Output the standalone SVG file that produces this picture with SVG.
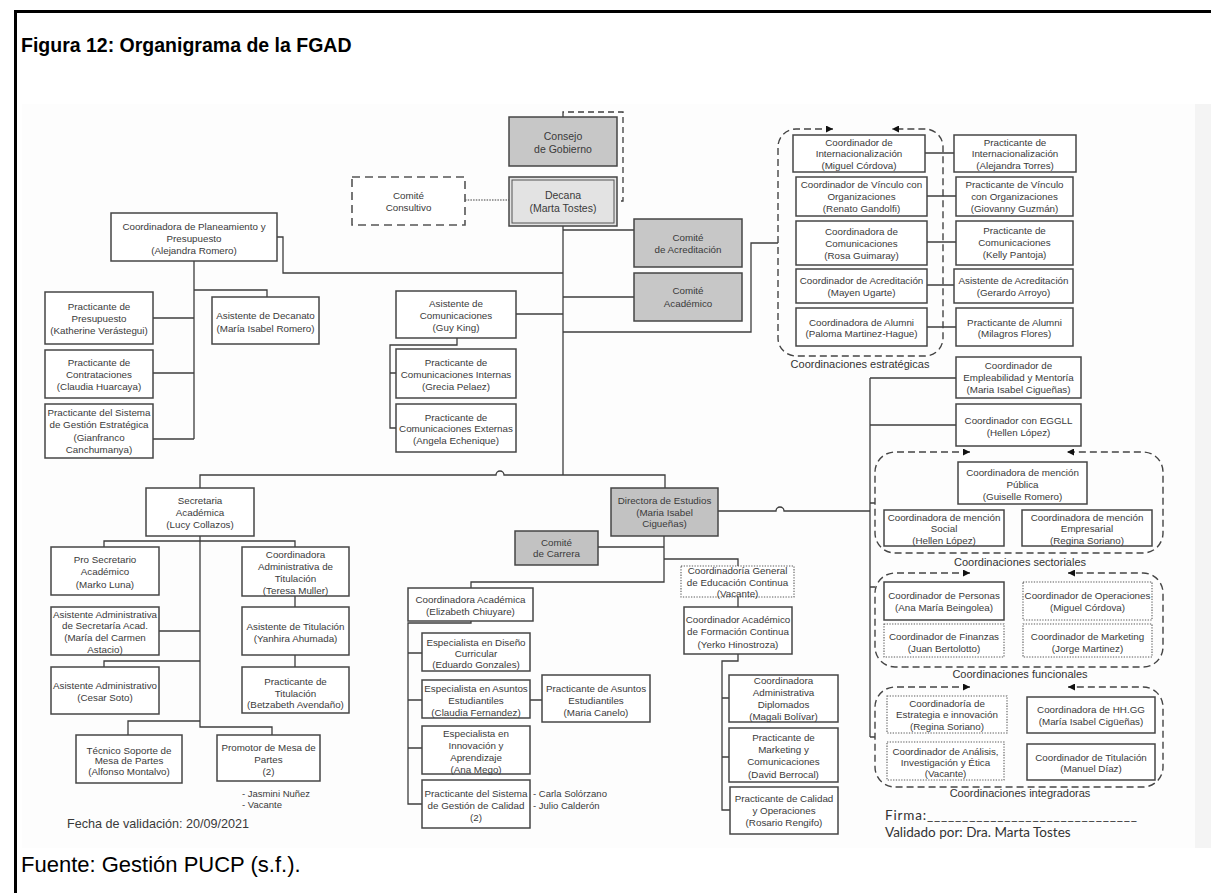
<svg xmlns="http://www.w3.org/2000/svg" width="1211" height="893" viewBox="0 0 1211 893">
  <style>
    .box{fill:#fff;stroke:#464646;stroke-width:1.5}
    .gray{fill:#c7c7c7}
    .dark{fill:#c2c2c2}
    .dot{stroke:#5a5a5a;stroke-width:1.1;stroke-dasharray:1.3 1.4}
    .dashbox{fill:#fff;stroke:#555;stroke-width:1.6;stroke-dasharray:8 5}
    .grp{fill:none;stroke:#444;stroke-width:1.4;stroke-dasharray:7 4}
    .ln{fill:none;stroke:#3e3e3e;stroke-width:1.3}
    .t{font-family:"Liberation Sans",Arial,sans-serif;font-size:9.8px;fill:#3a3a3a;text-anchor:middle}
    .tl{font-family:"Liberation Sans",Arial,sans-serif;font-size:10.5px;fill:#3a3a3a;text-anchor:middle}
    .lab{font-family:"Liberation Sans",Arial,sans-serif;font-size:11px;fill:#333;text-anchor:middle}
    .note{font-family:"Liberation Sans",Arial,sans-serif;font-size:9.5px;fill:#3a3a3a}
  </style>
  <defs>
    <marker id="arr" viewBox="0 0 10 10" refX="10" refY="5" markerWidth="9" markerHeight="7" markerUnits="userSpaceOnUse" orient="auto-start-reverse">
      <path d="M0,0 L10,5 L0,10 z" fill="#111"/>
    </marker>
  </defs>

  <!-- page -->
  <rect x="0" y="0" width="1211" height="893" fill="#fff"/>
  <rect x="22" y="104" width="1173" height="744" fill="#fdfdfd"/>
  <rect x="1195" y="104" width="16" height="744" fill="#f4f4f4"/>
  <path d="M14,11.5 H1211 M15.5,10 V893" fill="none" stroke="#000" stroke-width="3"/>
  <text x="21" y="52" font-family="Liberation Sans,Arial,sans-serif" font-size="19.5" font-weight="bold" fill="#000">Figura 12: Organigrama de la FGAD</text>
  <text x="21" y="872" font-family="Liberation Sans,Arial,sans-serif" font-size="22" fill="#000">Fuente: Gestión PUCP (s.f.).</text>

  <!-- connectors -->
  <g id="connectors">
    <path class="ln" style="stroke-dasharray:6 4" d="M563,117 V112 H623 V201 H617"/>
    <path class="ln" style="stroke-dasharray:1.5 1.2;stroke-width:1.1" d="M465,200 H509"/>
    <!-- spine from the dean -->
    <path class="ln" d="M563,226 V475"/>
    <path class="ln" d="M563,230 H634 M563,297 H634"/>
    <path class="ln" d="M563,273 H283 V237 H277"/>
    <path class="ln" d="M563,332 H751 V243 H778"/>
    <path class="ln" d="M516,314 H563"/>
    <path class="ln" d="M457,338 V345 H390 V428 H396 M390,373 H396"/>
    <!-- planning branch -->
    <path class="ln" d="M194,261 V439 M194,290 H267 V297 M153,318 H194 M153,373 H194 M153,439 H194"/>
    <!-- strategic coordinations -->
    <path class="ln" d="M925,153 H954 M927,196 H956 M927,242 H956 M927,285 H954 M927,327 H956"/>
    <!-- main horizontal to the two lower units -->
    <path class="ln" d="M200,488 V475 H496 A4,4 0 0 1 504,475 H665 V488"/>
    <!-- academic secretary -->
    <path class="ln" d="M200,536 V727 H272 V735"/>
    <path class="ln" d="M104,547 V541 H295 V547"/>
    <path class="ln" d="M159,631 H200 M200,661 H104 V667 M200,721 H128 V735"/>
    <path class="ln" d="M295,596 V607 M295,655 V667"/>
    <!-- director of studies -->
    <path class="ln" d="M664,536 V582 H471 V588 M598,547 H664 M664,559 H738 V566 M738,597 V607"/>
    <path class="ln" d="M471,621 V623 H408 V804 H422 M408,653 H422 M408,700 H422 M408,748 H422 M530,700 H542"/>
    <path class="ln" d="M738,654 V661 H722 V810 H730 M722,698 H729 M722,757 H729"/>
    <path class="ln" d="M718,511 H776 A4,4 0 0 1 784,511 H870"/>
    <path class="ln" d="M870,378 V737 M870,378 H956 M870,425 H956 M870,503 H875 M870,587 H875 M870,737 H875"/>
  </g>

  <!-- coordination groups -->
  <g id="grupo-estrategicas">
    <path class="grp" marker-start="url(#arr)" marker-end="url(#arr)" d="M833,129 H796 A18,18 0 0 0 778,147 V338 A18,18 0 0 0 796,356 H925 A18,18 0 0 0 943,338 V147 A18,18 0 0 0 925,129 H892"/>
    <text class="lab" x="860" y="368">Coordinaciones estratégicas</text>
  </g>
  <g id="grupo-sectoriales">
    <path class="grp" marker-start="url(#arr)" marker-end="url(#arr)" d="M970,452 H895 A20,20 0 0 0 875,472 V533 A20,20 0 0 0 895,553 H1143 A20,20 0 0 0 1163,533 V472 A20,20 0 0 0 1143,452 H1067"/>
    <text class="lab" x="1020" y="566">Coordinaciones sectoriales</text>
  </g>
  <g id="grupo-funcionales">
    <path class="grp" marker-start="url(#arr)" marker-end="url(#arr)" d="M970,573 H895 A20,20 0 0 0 875,593 V647 A20,20 0 0 0 895,667 H1143 A20,20 0 0 0 1163,647 V593 A20,20 0 0 0 1143,573 H1068"/>
    <text class="lab" x="1020" y="678">Coordinaciones funcionales</text>
  </g>
  <g id="grupo-integradoras">
    <path class="grp" marker-start="url(#arr)" marker-end="url(#arr)" d="M970,687 H895 A20,20 0 0 0 875,707 V767 A20,20 0 0 0 895,787 H1143 A20,20 0 0 0 1163,767 V707 A20,20 0 0 0 1143,687 H1068"/>
    <text class="lab" x="1020" y="797">Coordinaciones integradoras</text>
  </g>

  <!-- governing bodies -->
  <g id="consejo-gobierno">
    <rect class="box gray" x="509" y="117" width="108" height="49"/>
    <text class="tl"><tspan x="563" y="140">Consejo</tspan><tspan x="563" y="153">de Gobierno</tspan></text>
  </g>
  <g id="decana">
    <rect class="box" style="fill:#e3e3e3" x="509" y="177" width="108" height="49"/>
    <rect fill="none" stroke="#555" stroke-width="1" x="512" y="180" width="102" height="43"/>
    <text class="tl"><tspan x="563" y="198.5">Decana</tspan><tspan x="563" y="211.5">(Marta Tostes)</tspan></text>
  </g>
  <g id="comite-consultivo">
    <rect class="dashbox" x="352" y="177" width="113" height="48"/>
    <text class="t"><tspan x="408.5" y="198.5">Comité</tspan><tspan x="408.5" y="210.5">Consultivo</tspan></text>
  </g>
  <g id="comite-acreditacion">
    <rect class="box gray" x="634" y="219" width="108" height="48"/>
    <text class="t"><tspan x="688" y="240.5">Comité</tspan><tspan x="688" y="252.5">de Acreditación</tspan></text>
  </g>
  <g id="comite-academico">
    <rect class="box gray" x="634" y="273" width="108" height="48"/>
    <text class="t"><tspan x="688" y="293.5">Comité</tspan><tspan x="688" y="306.5">Académico</tspan></text>
  </g>

  <!-- planning and budget -->
  <g id="planeamiento">
    <rect class="box" x="111" y="213" width="166" height="48"/>
    <text class="t"><tspan x="194" y="229.5">Coordinadora de Planeamiento y</tspan><tspan x="194" y="241.5">Presupuesto</tspan><tspan x="194" y="253.5">(Alejandra Romero)</tspan></text>
  </g>
  <g id="practicante-presupuesto">
    <rect class="box" x="45" y="292" width="108" height="52"/>
    <text class="t"><tspan x="99" y="309.5">Practicante de</tspan><tspan x="99" y="321.5">Presupuesto</tspan><tspan x="99" y="333.5">(Katherine Verástegui)</tspan></text>
  </g>
  <g id="practicante-contrataciones">
    <rect class="box" x="45" y="350" width="108" height="48"/>
    <text class="t"><tspan x="99" y="365.5">Practicante de</tspan><tspan x="99" y="377.5">Contrataciones</tspan><tspan x="99" y="389.5">(Claudia Huarcaya)</tspan></text>
  </g>
  <g id="practicante-gestion-estrategica">
    <rect class="box" x="45" y="404" width="108" height="54"/>
    <text class="t"><tspan x="99" y="415.5">Practicante del Sistema</tspan><tspan x="99" y="428">de Gestión Estratégica</tspan><tspan x="99" y="440.5">(Gianfranco</tspan><tspan x="99" y="453">Canchumanya)</tspan></text>
  </g>
  <g id="asistente-decanato">
    <rect class="box" x="212" y="297" width="107" height="47"/>
    <text class="t"><tspan x="265.5" y="318.5">Asistente de Decanato</tspan><tspan x="265.5" y="331.5">(María Isabel Romero)</tspan></text>
  </g>

  <!-- communications -->
  <g id="asistente-comunicaciones">
    <rect class="box" x="396" y="291" width="120" height="47"/>
    <text class="t"><tspan x="456" y="306.5">Asistente de</tspan><tspan x="456" y="318.5">Comunicaciones</tspan><tspan x="456" y="330.5">(Guy King)</tspan></text>
  </g>
  <g id="practicante-com-internas">
    <rect class="box" x="396" y="349" width="120" height="49"/>
    <text class="t"><tspan x="456" y="365.5">Practicante de</tspan><tspan x="456" y="377.5">Comunicaciones Internas</tspan><tspan x="456" y="390">(Grecia Pelaez)</tspan></text>
  </g>
  <g id="practicante-com-externas">
    <rect class="box" x="396" y="404" width="120" height="48"/>
    <text class="t"><tspan x="456" y="420.5">Practicante de</tspan><tspan x="456" y="432">Comunicaciones Externas</tspan><tspan x="456" y="444">(Angela Echenique)</tspan></text>
  </g>

  <!-- strategic coordinations -->
  <g id="coord-internacionalizacion">
    <rect class="box" x="793" y="135" width="132" height="37"/>
    <text class="t"><tspan x="859" y="145.5">Coordinador de</tspan><tspan x="859" y="157">Internacionalización</tspan><tspan x="859" y="168.5">(Miguel Córdova)</tspan></text>
  </g>
  <g id="coord-vinculo">
    <rect class="box" x="796" y="177" width="131" height="39"/>
    <text class="t"><tspan x="861.5" y="187.5">Coordinador de Vínculo con</tspan><tspan x="861.5" y="199.5">Organizaciones</tspan><tspan x="861.5" y="211.5">(Renato Gandolfi)</tspan></text>
  </g>
  <g id="coord-comunicaciones">
    <rect class="box" x="796" y="221" width="131" height="44"/>
    <text class="t"><tspan x="861.5" y="234.5">Coordinadora de</tspan><tspan x="861.5" y="246.5">Comunicaciones</tspan><tspan x="861.5" y="258.5">(Rosa Guimaray)</tspan></text>
  </g>
  <g id="coord-acreditacion">
    <rect class="box" x="796" y="269" width="131" height="34"/>
    <text class="t"><tspan x="861.5" y="283.5">Coordinador de Acreditación</tspan><tspan x="861.5" y="295.5">(Mayen Ugarte)</tspan></text>
  </g>
  <g id="coord-alumni">
    <rect class="box" x="796" y="308" width="131" height="38"/>
    <text class="t"><tspan x="861.5" y="325.5">Coordinadora de Alumni</tspan><tspan x="861.5" y="337">(Paloma Martinez-Hague)</tspan></text>
  </g>
  <g id="practicante-internacionalizacion">
    <rect class="box" x="954" y="135" width="122" height="37"/>
    <text class="t"><tspan x="1015" y="145.5">Practicante de</tspan><tspan x="1015" y="157">Internacionalización</tspan><tspan x="1015" y="168.5">(Alejandra Torres)</tspan></text>
  </g>
  <g id="practicante-vinculo">
    <rect class="box" x="956" y="177" width="117" height="39"/>
    <text class="t"><tspan x="1014.5" y="187.5">Practicante de Vínculo</tspan><tspan x="1014.5" y="199.5">con Organizaciones</tspan><tspan x="1014.5" y="211.5">(Giovanny Guzmán)</tspan></text>
  </g>
  <g id="practicante-comunicaciones">
    <rect class="box" x="956" y="221" width="117" height="44"/>
    <text class="t"><tspan x="1014.5" y="233.5">Practicante de</tspan><tspan x="1014.5" y="245.5">Comunicaciones</tspan><tspan x="1014.5" y="258">(Kelly Pantoja)</tspan></text>
  </g>
  <g id="asistente-acreditacion">
    <rect class="box" x="954" y="269" width="119" height="34"/>
    <text class="t"><tspan x="1013.5" y="283.5">Asistente de Acreditación</tspan><tspan x="1013.5" y="295.5">(Gerardo Arroyo)</tspan></text>
  </g>
  <g id="practicante-alumni">
    <rect class="box" x="956" y="308" width="117" height="38"/>
    <text class="t"><tspan x="1014.5" y="325.5">Practicante de Alumni</tspan><tspan x="1014.5" y="337">(Milagros Flores)</tspan></text>
  </g>

  <!-- right column -->
  <g id="coord-empleabilidad">
    <rect class="box" x="956" y="357" width="125" height="41"/>
    <text class="t"><tspan x="1018.5" y="368.5">Coordinador de</tspan><tspan x="1018.5" y="380.5">Empleabilidad y Mentoría</tspan><tspan x="1018.5" y="393">(Maria Isabel Cigueñas)</tspan></text>
  </g>
  <g id="coord-eggll">
    <rect class="box" x="956" y="404" width="125" height="42"/>
    <text class="t"><tspan x="1018.5" y="423.5">Coordinador con EGGLL</tspan><tspan x="1018.5" y="435.5">(Hellen López)</tspan></text>
  </g>
  <g id="mencion-publica">
    <rect class="box" x="958" y="462" width="129" height="42"/>
    <text class="t"><tspan x="1022.5" y="475.5">Coordinadora de mención</tspan><tspan x="1022.5" y="487.5">Pública</tspan><tspan x="1022.5" y="499.5">(Guiselle Romero)</tspan></text>
  </g>
  <g id="mencion-social">
    <rect class="box" x="884" y="510" width="120" height="36"/>
    <text class="t"><tspan x="944" y="520.5">Coordinadora de mención</tspan><tspan x="944" y="531.5">Social</tspan><tspan x="944" y="543.5">(Hellen López)</tspan></text>
  </g>
  <g id="mencion-empresarial">
    <rect class="box" x="1022" y="510" width="130" height="36"/>
    <text class="t"><tspan x="1087" y="520.5">Coordinadora de mención</tspan><tspan x="1087" y="531.5">Empresarial</tspan><tspan x="1087" y="543.5">(Regina Soriano)</tspan></text>
  </g>
  <g id="coord-personas">
    <rect class="box" x="884" y="582" width="120" height="38"/>
    <text class="t"><tspan x="944" y="598.5">Coordinador de Personas</tspan><tspan x="944" y="610.5">(Ana María Beingolea)</tspan></text>
  </g>
  <g id="coord-operaciones">
    <rect class="box dot" x="1023" y="582" width="129" height="38"/>
    <text class="t"><tspan x="1087.5" y="598.5">Coordinador de Operaciones</tspan><tspan x="1087.5" y="610.5">(Miguel Córdova)</tspan></text>
  </g>
  <g id="coord-finanzas">
    <rect class="box dot" x="884" y="624" width="120" height="33"/>
    <text class="t"><tspan x="944" y="639.5">Coordinador de Finanzas</tspan><tspan x="944" y="651.5">(Juan Bertolotto)</tspan></text>
  </g>
  <g id="coord-marketing">
    <rect class="box dot" x="1023" y="624" width="129" height="33"/>
    <text class="t"><tspan x="1087.5" y="639.5">Coordinador de Marketing</tspan><tspan x="1087.5" y="651.5">(Jorge Martinez)</tspan></text>
  </g>
  <g id="coord-estrategia">
    <rect class="box dot" x="887" y="696" width="120" height="37"/>
    <text class="t"><tspan x="947" y="706.5">Coordinadoría de</tspan><tspan x="947" y="718">Estrategia e innovación</tspan><tspan x="947" y="730">(Regina Soriano)</tspan></text>
  </g>
  <g id="coord-hhgg">
    <rect class="box" x="1027" y="697" width="128" height="36"/>
    <text class="t"><tspan x="1091" y="712.5">Coordinadora de HH.GG</tspan><tspan x="1091" y="724.5">(María Isabel Cigüeñas)</tspan></text>
  </g>
  <g id="coord-analisis">
    <rect class="box dot" x="887" y="742" width="117" height="38"/>
    <text class="t"><tspan x="945.5" y="754.5">Coordinador de Análisis,</tspan><tspan x="945.5" y="765.5">Investigación y Ética</tspan><tspan x="945.5" y="776.5">(Vacante)</tspan></text>
  </g>
  <g id="coord-titulacion">
    <rect class="box" x="1027" y="744" width="128" height="36"/>
    <text class="t"><tspan x="1091" y="760.5">Coordinador de Titulación</tspan><tspan x="1091" y="771.5">(Manuel Díaz)</tspan></text>
  </g>

  <!-- academic secretary -->
  <g id="secretaria-academica">
    <rect class="box" x="146" y="488" width="108" height="48"/>
    <text class="t"><tspan x="200" y="503.5">Secretaria</tspan><tspan x="200" y="515.5">Académica</tspan><tspan x="200" y="527.5">(Lucy Collazos)</tspan></text>
  </g>
  <g id="pro-secretario">
    <rect class="box" x="51" y="547" width="108" height="48"/>
    <text class="t"><tspan x="105" y="562.5">Pro Secretario</tspan><tspan x="105" y="575">Académico</tspan><tspan x="105" y="587.5">(Marko Luna)</tspan></text>
  </g>
  <g id="asistente-adm-secretaria">
    <rect class="box" x="51" y="607" width="108" height="48"/>
    <text class="t"><tspan x="105" y="617.5">Asistente Administrativa</tspan><tspan x="105" y="629">de Secretaría Acad.</tspan><tspan x="105" y="641">(María del Carmen</tspan><tspan x="105" y="652.5">Astacio)</tspan></text>
  </g>
  <g id="asistente-administrativo">
    <rect class="box" x="51" y="667" width="108" height="47"/>
    <text class="t"><tspan x="105" y="688.5">Asistente Administrativo</tspan><tspan x="105" y="700.5">(Cesar Soto)</tspan></text>
  </g>
  <g id="tecnico-mesa-partes">
    <rect class="box" x="76" y="735" width="106" height="48"/>
    <text class="t"><tspan x="129" y="753.5">Técnico Soporte de</tspan><tspan x="129" y="764">Mesa de Partes</tspan><tspan x="129" y="774.5">(Alfonso Montalvo)</tspan></text>
  </g>
  <g id="promotor-mesa-partes">
    <rect class="box" x="217" y="735" width="103" height="46"/>
    <text class="t"><tspan x="268.5" y="750.5">Promotor de Mesa de</tspan><tspan x="268.5" y="762.5">Partes</tspan><tspan x="268.5" y="774.5">(2)</tspan></text>
    <text class="note"><tspan x="242" y="797">- Jasmini Nuñez</tspan><tspan x="242" y="808">- Vacante</tspan></text>
  </g>
  <g id="coord-adm-titulacion">
    <rect class="box" x="242" y="547" width="107" height="49"/>
    <text class="t"><tspan x="295.5" y="557.5">Coordinadora</tspan><tspan x="295.5" y="569.5">Administrativa de</tspan><tspan x="295.5" y="581.5">Titulación</tspan><tspan x="295.5" y="593.5">(Teresa Muller)</tspan></text>
  </g>
  <g id="asistente-titulacion">
    <rect class="box" x="242" y="607" width="107" height="48"/>
    <text class="t"><tspan x="295.5" y="629.5">Asistente de Titulación</tspan><tspan x="295.5" y="641.5">(Yanhira Ahumada)</tspan></text>
  </g>
  <g id="practicante-titulacion">
    <rect class="box" x="242" y="667" width="107" height="46"/>
    <text class="t"><tspan x="295.5" y="684.5">Practicante de</tspan><tspan x="295.5" y="696.5">Titulación</tspan><tspan x="295.5" y="707.5">(Betzabeth Avendaño)</tspan></text>
  </g>

  <!-- director of studies -->
  <g id="directora-estudios">
    <rect class="box dark" x="611" y="488" width="107" height="48"/>
    <text class="t"><tspan x="664.5" y="503.5">Directora de Estudios</tspan><tspan x="664.5" y="515.5">(Maria Isabel</tspan><tspan x="664.5" y="526.5">Cigueñas)</tspan></text>
  </g>
  <g id="comite-carrera">
    <rect class="box dark" x="515" y="531" width="83" height="34"/>
    <text class="t"><tspan x="556.5" y="545.5">Comité</tspan><tspan x="556.5" y="556.5">de Carrera</tspan></text>
  </g>
  <g id="coord-general-educacion-continua">
    <rect class="box dot" x="681" y="566" width="113" height="31"/>
    <text class="t"><tspan x="737.5" y="574">Coordinadoría General</tspan><tspan x="737.5" y="585.5">de Educación Continua</tspan><tspan x="737.5" y="597">(Vacante)</tspan></text>
  </g>
  <g id="coord-formacion-continua">
    <rect class="box" x="684" y="607" width="108" height="47"/>
    <text class="t"><tspan x="738" y="622.5">Coordinador Académico</tspan><tspan x="738" y="635">de Formación Continua</tspan><tspan x="738" y="648">(Yerko Hinostroza)</tspan></text>
  </g>
  <g id="coord-academica">
    <rect class="box" x="408" y="588" width="125" height="33"/>
    <text class="t"><tspan x="470.5" y="602.5">Coordinadora Académica</tspan><tspan x="470.5" y="614.5">(Elizabeth Chiuyare)</tspan></text>
  </g>
  <g id="especialista-diseno">
    <rect class="box" x="422" y="633" width="108" height="38"/>
    <text class="t"><tspan x="476" y="645.5">Especialista en Diseño</tspan><tspan x="476" y="656.5">Curricular</tspan><tspan x="476" y="667.5">(Eduardo Gonzales)</tspan></text>
  </g>
  <g id="especialista-asuntos">
    <rect class="box" x="422" y="680" width="108" height="38"/>
    <text class="t"><tspan x="476" y="691.5">Especialista en Asuntos</tspan><tspan x="476" y="703.5">Estudiantiles</tspan><tspan x="476" y="715.5">(Claudia Fernandez)</tspan></text>
  </g>
  <g id="practicante-asuntos">
    <rect class="box" x="542" y="675" width="108" height="47"/>
    <text class="t"><tspan x="596" y="691.5">Practicante de Asuntos</tspan><tspan x="596" y="703.5">Estudiantiles</tspan><tspan x="596" y="715.5">(Maria Canelo)</tspan></text>
  </g>
  <g id="especialista-innovacion">
    <rect class="box" x="422" y="726" width="108" height="48"/>
    <text class="t"><tspan x="476" y="736.5">Especialista en</tspan><tspan x="476" y="748.5">Innovación y</tspan><tspan x="476" y="760.5">Aprendizaje</tspan><tspan x="476" y="772.5">(Ana Mego)</tspan></text>
  </g>
  <g id="practicante-calidad-sgc">
    <rect class="box" x="422" y="780" width="108" height="48"/>
    <text class="t"><tspan x="476" y="796.5">Practicante del Sistema</tspan><tspan x="476" y="808.5">de Gestión de Calidad</tspan><tspan x="476" y="820.5">(2)</tspan></text>
    <text class="note"><tspan x="533" y="797">- Carla Solórzano</tspan><tspan x="533" y="809">- Julio Calderón</tspan></text>
  </g>
  <g id="coord-adm-diplomados">
    <rect class="box" x="729" y="675" width="109" height="47"/>
    <text class="t"><tspan x="783.5" y="683.5">Coordinadora</tspan><tspan x="783.5" y="695.5">Administrativa</tspan><tspan x="783.5" y="707.5">Diplomados</tspan><tspan x="783.5" y="719.5">(Magali Bolívar)</tspan></text>
  </g>
  <g id="practicante-marketing">
    <rect class="box" x="729" y="728" width="109" height="54"/>
    <text class="t"><tspan x="783.5" y="740.5">Practicante de</tspan><tspan x="783.5" y="752.5">Marketing y</tspan><tspan x="783.5" y="765">Comunicaciones</tspan><tspan x="783.5" y="777.5">(David Berrocal)</tspan></text>
  </g>
  <g id="practicante-calidad-operaciones">
    <rect class="box" x="730" y="787" width="108" height="47"/>
    <text class="t"><tspan x="784" y="801.5">Practicante de Calidad</tspan><tspan x="784" y="813.5">y Operaciones</tspan><tspan x="784" y="826">(Rosario Rengifo)</tspan></text>
  </g>

  <!-- validation notes -->
  <text x="67" y="828" font-family="Liberation Sans,Arial,sans-serif" font-size="12.6" fill="#3a3a3a">Fecha de validación: 20/09/2021</text>
  <text x="885" y="820" font-family="Lato,Open Sans,sans-serif" font-size="13.5" fill="#333" textLength="252" lengthAdjust="spacing">Firma:______________________________</text>
  <text x="885" y="837" font-family="Lato,Open Sans,sans-serif" font-size="13.5" fill="#333">Validado por: Dra. Marta Tostes</text>
</svg>
